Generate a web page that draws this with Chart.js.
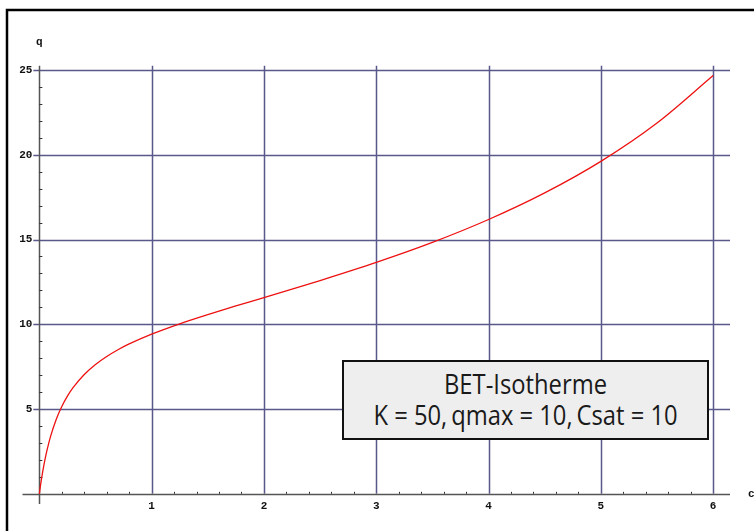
<!DOCTYPE html>
<html>
<head>
<meta charset="utf-8">
<script src="https://cdn.jsdelivr.net/npm/chart.js@4"></script>
<style>
  html, body { margin: 0; padding: 0; background: #fff; }
  #wrap { position: relative; width: 754px; height: 531px; }
  #legendBox {
    position: absolute; left: 342px; top: 360px; width: 367px; height: 80px;
    background: #eeeeee; border: 2px solid #111; box-sizing: border-box;
    font-family: "Open Sans", sans-serif; color: #1a1a1a; text-align: center;
  }
  #legendBox div {
    font-size: 27px; line-height: 31px; padding-top: 6px;
    transform: scaleX(0.88); transform-origin: center top; white-space: nowrap;
  }
</style>
</head>
<body>
<div id="wrap">
  <canvas id="betChart" width="754" height="531"></canvas>
  <div id="legendBox"><div>BET-Isotherme<br>K = 50,&thinsp;qmax = 10,&thinsp;Csat = 10</div></div>
</div>
<script>
// concentration c and loading q
const cValues = [0, 0.005, 0.01, 0.02, 0.03, 0.05, 0.07, 0.1, 0.15, 0.2, 0.25, 0.3, 0.4, 0.5, 0.6, 0.7, 0.8, 1.0, 1.25, 1.5, 1.75, 2, 2.5, 3, 3.5, 4, 4.5, 5, 5.5, 6]
const qValues = [0, 0.24, 0.48, 0.91, 1.31, 2.02, 2.62, 3.39, 4.39, 5.15, 5.76, 6.26, 7.04, 7.63, 8.10, 8.50, 8.84, 9.42, 10.03, 10.57, 11.08, 11.57, 12.58, 13.65, 14.83, 16.18, 17.75, 19.61, 21.87, 24.67]

const xTicks = [1, 2, 3, 4, 5, 6]
const yTicks = [5, 10, 15, 20, 25]

const gridColor = '#58588a'
const axisColor = '#555'

// draws frame, grid, axes, minor ticks and labels like the old plot
const axesPlugin = {
  id: 'axesPlugin',
  beforeDatasetsDraw(chart) {
    const { ctx } = chart
    const xs = chart.scales.x
    const ys = chart.scales.y
    const x0 = xs.getPixelForValue(0)
    const y0 = ys.getPixelForValue(0)
    const xEnd = xs.getPixelForValue(6.15)
    const yTop = ys.getPixelForValue(25.25)

    ctx.save()
    // outer frame
    ctx.strokeStyle = '#000'
    ctx.lineWidth = 2.5
    ctx.beginPath()
    ctx.moveTo(7, 531)
    ctx.lineTo(7, 10)
    ctx.lineTo(754, 10)
    ctx.stroke()

    // grid
    ctx.strokeStyle = gridColor
    ctx.lineWidth = 1.5
    yTicks.forEach(v => {
      const y = Math.round(ys.getPixelForValue(v)) + 0.5
      ctx.beginPath()
      ctx.moveTo(x0 - 6, y)
      ctx.lineTo(xEnd, y)
      ctx.stroke()
    })
    xTicks.forEach(v => {
      const x = Math.round(xs.getPixelForValue(v)) + 0.5
      ctx.beginPath()
      ctx.moveTo(x, yTop)
      ctx.lineTo(x, y0)
      ctx.stroke()
    })

    // axes
    ctx.strokeStyle = axisColor
    ctx.lineWidth = 1.5
    ctx.beginPath()
    ctx.moveTo(xs.getPixelForValue(-0.15), Math.round(y0) + 0.5)
    ctx.lineTo(xEnd, Math.round(y0) + 0.5)
    ctx.moveTo(Math.round(x0) + 0.5, yTop)
    ctx.lineTo(Math.round(x0) + 0.5, ys.getPixelForValue(-0.6))
    ctx.stroke()

    // minor ticks
    ctx.lineWidth = 1
    ctx.strokeStyle = '#333'
    for (let i = 1; i <= 30; i++) {
      if (i % 5 === 0) continue
      const x = Math.round(xs.getPixelForValue(i * 0.2)) + 0.5
      ctx.beginPath()
      ctx.moveTo(x, y0 - 2)
      ctx.lineTo(x, y0)
      ctx.stroke()
    }
    for (let i = 1; i <= 25; i++) {
      if (i % 5 === 0) continue
      const y = Math.round(ys.getPixelForValue(i)) + 0.5
      ctx.beginPath()
      ctx.moveTo(x0, y)
      ctx.lineTo(x0 + 3, y)
      ctx.stroke()
    }

    // tick labels
    ctx.fillStyle = '#111'
    ctx.font = 'bold 11px "Liberation Mono", monospace'
    ctx.textAlign = 'center'
    ctx.textBaseline = 'middle'
    xTicks.forEach(v => ctx.fillText(String(v), xs.getPixelForValue(v), y0 + 12))
    ctx.textAlign = 'right'
    yTicks.forEach(v => ctx.fillText(String(v), x0 - 7, ys.getPixelForValue(v)))

    // axis names
    ctx.textAlign = 'center'
    ctx.fillText('q', x0, 42)
    ctx.textAlign = 'left'
    ctx.fillText('c', 748, y0)
    ctx.restore()
  }
}

new Chart(document.getElementById('betChart'), {
  type: 'scatter',
  data: {
    datasets: [{
      data: cValues.map((c, i) => ({ x: c, y: qValues[i] })),
      showLine: true,
      borderColor: '#ee1111',
      borderWidth: 1.3,
      pointRadius: 0,
      cubicInterpolationMode: 'monotone'
    }]
  },
  options: {
    responsive: false,
    animation: false,
    layout: { padding: { left: 22.5, right: 24, top: 61.5, bottom: 27 } },
    plugins: { legend: { display: false }, tooltip: { enabled: false } },
    scales: {
      x: { type: 'linear', min: -0.15, max: 6.15, display: false },
      y: { type: 'linear', min: -0.6, max: 25.5, display: false }
    }
  },
  plugins: [axesPlugin]
})
</script>
</body>
</html>
